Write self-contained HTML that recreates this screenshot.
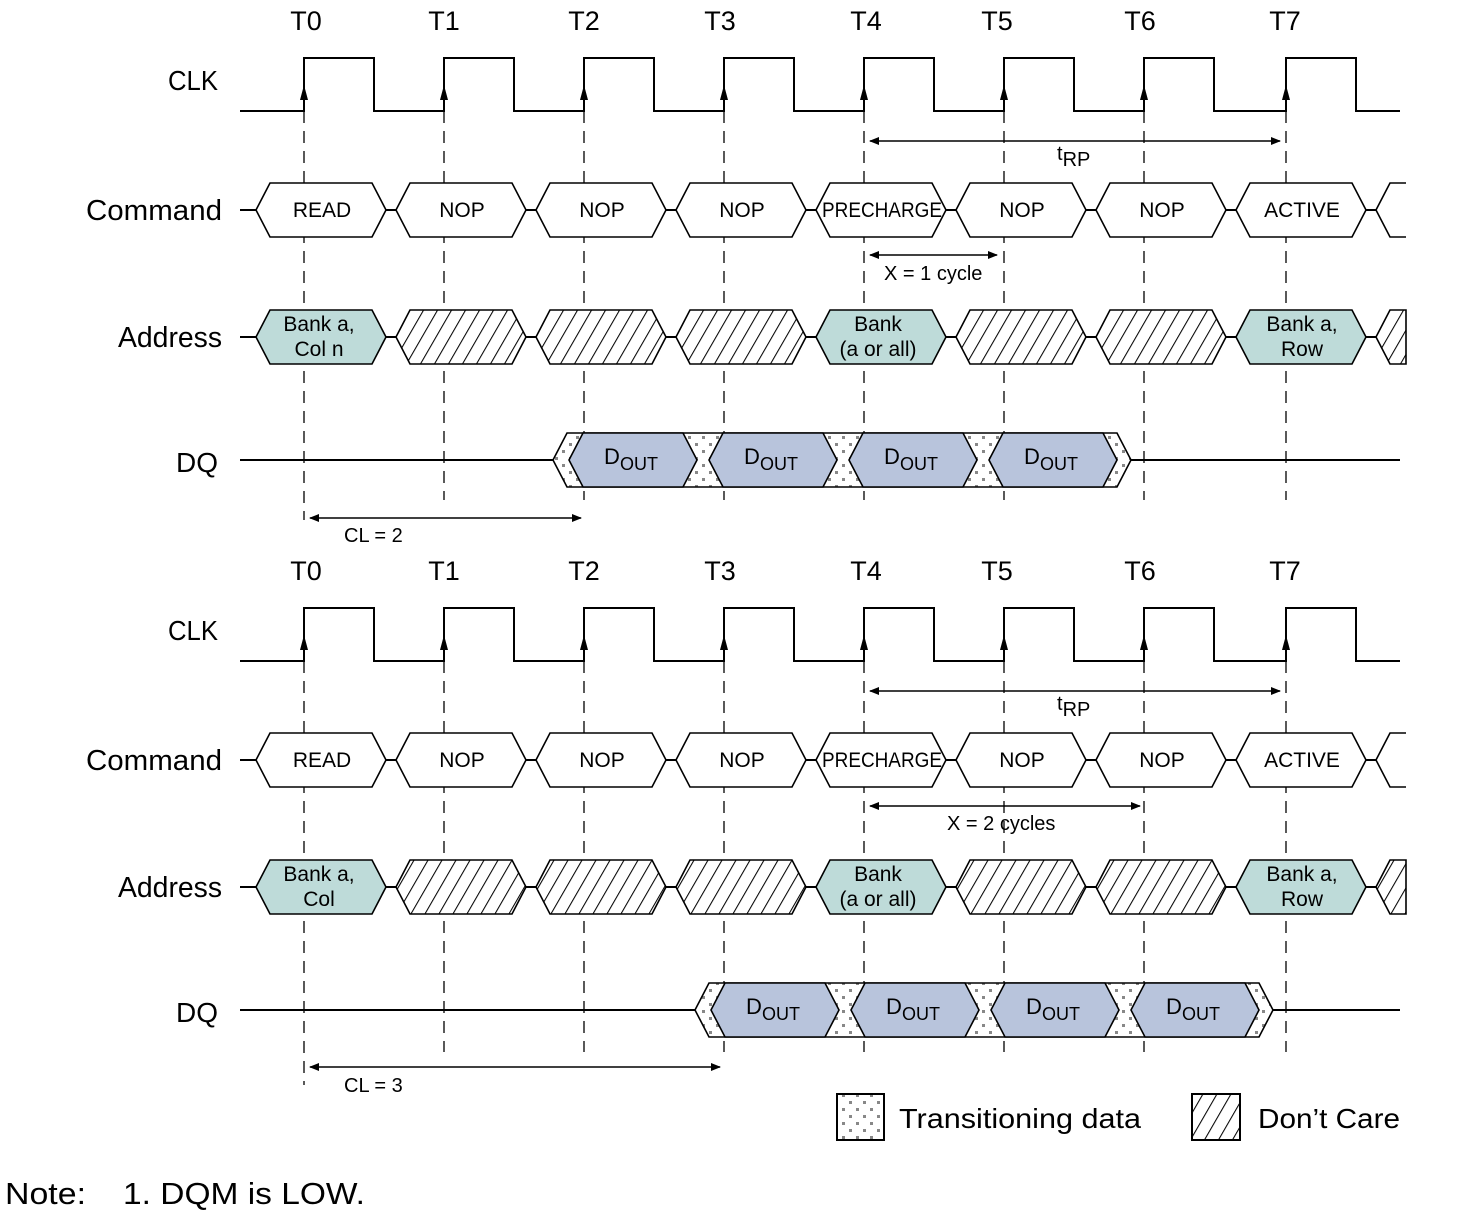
<!DOCTYPE html>
<html><head><meta charset="utf-8"><style>
html,body{margin:0;padding:0;background:#fff;width:1463px;height:1211px;overflow:hidden}
svg{display:block}
text{font-family:"Liberation Sans",sans-serif;fill:#000}
</style></head><body>
<svg id="s" width="1463" height="1211" xmlns="http://www.w3.org/2000/svg">
<defs>
<pattern id="hatch" patternUnits="userSpaceOnUse" width="14" height="14" patternTransform="skewX(-30)">
<rect width="14" height="14" fill="#fff"/><line x1="0" y1="0" x2="0" y2="14" stroke="#000" stroke-width="2.4"/>
</pattern>
<pattern id="dots" patternUnits="userSpaceOnUse" width="14" height="14">
<rect width="14" height="14" fill="#fff"/><rect x="2" y="2" width="3" height="3" fill="#888"/><rect x="9" y="9" width="3" height="3" fill="#888"/>
</pattern>
<marker id="ah" markerWidth="10" markerHeight="8" refX="9" refY="4" orient="auto-start-reverse" markerUnits="userSpaceOnUse">
<path d="M0,0 L10,4 L0,8 z" fill="#000"/></marker>
</defs>
<g id="g"></g>
<text x="5" y="1204" font-size="31" textLength="81" lengthAdjust="spacingAndGlyphs">Note:</text>
<text x="123" y="1204" font-size="31" textLength="242" lengthAdjust="spacingAndGlyphs">1.  DQM is LOW.</text>
<rect x="837" y="1094" width="47" height="46" fill="url(#dots)" stroke="#000" stroke-width="2"/>
<text x="899" y="1128" font-size="28" textLength="242" lengthAdjust="spacingAndGlyphs">Transitioning data</text>
<rect x="1192" y="1094" width="48" height="46" fill="url(#hatch)" stroke="#000" stroke-width="2"/>
<text x="1258" y="1128" font-size="28" textLength="142" lengthAdjust="spacingAndGlyphs">Don’t Care</text>
</svg>
<script>
var g=document.getElementById('g'),h='';
var T=[304,444,584,724,864,1004,1144,1286];
var TL=[306,444,584,720,866,997,1140,1285];
function hex(x1,x2,yc,fill,tip){tip=tip||14;var t=yc-27,b=yc+27;
return '<polygon points="'+x1+','+yc+' '+(x1+tip)+','+t+' '+(x2-tip)+','+t+' '+x2+','+yc+' '+(x2-tip)+','+b+' '+(x1+tip)+','+b+'" fill="'+fill+'" stroke="#000" stroke-width="1.6"/>';}
function txt(x,y,s,fs,anchor,tl){return '<text x="'+x+'" y="'+y+'" font-size="'+fs+'" text-anchor="'+(anchor||'middle')+'"'+(tl?' textLength="'+tl+'" lengthAdjust="spacingAndGlyphs"':'')+'>'+s+'</text>';}
function arrow(x1,x2,y){return '<line x1="'+x1+'" y1="'+y+'" x2="'+x2+'" y2="'+y+'" stroke="#000" stroke-width="1.6" marker-start="url(#ah)" marker-end="url(#ah)"/>';}
function diagram(o,cl,xl,xlab){
 var hi=58+o,lo=111+o;
 for(var i=0;i<8;i++)h+=txt(TL[i],30+o,'T'+i,27);
 h+=txt(218,90+o,'CLK',28,'end',50);h+=txt(222,220+o,'Command',29,'end',136);h+=txt(222,347+o,'Address',29,'end',104);h+=txt(218,472+o,'DQ',28,'end',42);
 for(var i=0;i<8;i++){var end=(i==0?(o?1085:520):(o?1052:500));
  h+='<line x1="'+T[i]+'" y1="'+lo+'" x2="'+T[i]+'" y2="'+end+'" stroke="#000" stroke-width="1.3" stroke-dasharray="12,8"/>';}
 var d='M240,'+lo;
 for(var i=0;i<8;i++){d+=' L'+T[i]+','+lo+' L'+T[i]+','+hi+' L'+(T[i]+70)+','+hi+' L'+(T[i]+70)+','+lo;}
 d+=' L1400,'+lo;
 h+='<path d="'+d+'" fill="none" stroke="#000" stroke-width="2"/>';
 for(var i=0;i<8;i++)h+='<path d="M'+(T[i]-4)+','+(100+o)+' L'+T[i]+','+(85+o)+' L'+(T[i]+4)+','+(100+o)+' z" fill="#000"/>';
 var cy=210+o,ay=337+o;
 h+='<line x1="240" y1="'+cy+'" x2="1406" y2="'+cy+'" stroke="#000" stroke-width="2"/>';
 h+='<line x1="240" y1="'+ay+'" x2="1406" y2="'+ay+'" stroke="#000" stroke-width="2"/>';
 var cmds=['READ','NOP','NOP','NOP','PRECHARGE','NOP','NOP','ACTIVE'];
 for(var k=0;k<8;k++){var x=256+140*k;h+=hex(x,x+130,cy,'#fff');h+=txt(x+66,cy+7,cmds[k],21,'middle',k==4?120:null);}
 h+='<polyline points="1406,'+(cy-27)+' 1390,'+(cy-27)+' 1376,'+cy+' 1390,'+(cy+27)+' 1406,'+(cy+27)+'" fill="#fff" stroke="#000" stroke-width="1.6"/>';
 for(var k=0;k<8;k++){var x=256+140*k;
  if(k==0||k==4||k==7){h+=hex(x,x+130,ay,'#bedbd9');}else h+=hex(x,x+130,ay,'url(#hatch)');}
 h+='<polygon points="1406,'+(ay-27)+' 1390,'+(ay-27)+' 1376,'+ay+' 1390,'+(ay+27)+' 1406,'+(ay+27)+'" fill="url(#hatch)" stroke="#000" stroke-width="1.6"/>';
 h+=txt(319,ay-6,'Bank a,',21)+txt(319,ay+19,o?'Col':'Col n',21);
 h+=txt(878,ay-6,'Bank',21)+txt(878,ay+19,'(a or all)',21);
 h+=txt(1302,ay-6,'Bank a,',21)+txt(1302,ay+19,'Row',21);
 var dy=460+o,s=(o?695:553);
 h+='<line x1="240" y1="'+dy+'" x2="1400" y2="'+dy+'" stroke="#000" stroke-width="2"/>';
 h+=hex(s,s+578,dy,'url(#dots)');
 for(var k=0;k<4;k++){var x=s+16+140*k;h+=hex(x,x+128,dy,'#b8c4dc');
  h+='<text x="'+(x+62)+'" y="'+(dy+4)+'" font-size="22" text-anchor="middle">D<tspan font-size="18" dy="6">OUT</tspan></text>';}
 h+=arrow(870,1280,141+o);h+='<text x="1057" y="'+(160+o)+'" font-size="20">t<tspan dy="6">RP</tspan></text>';
 h+=arrow(870,xl,255+o+(o?1:0));h+=txt(xlab,280+o,o?'X = 2 cycles':'X = 1 cycle',20,'start');
 h+=arrow(310,cl,518+o-(o?1:0));h+=txt(344,542+o,o?'CL = 3':'CL = 2',20,'start');
}
diagram(0,581,997,884);
diagram(550,720,1140,947);
g.innerHTML=h;
</script>
</body></html>
